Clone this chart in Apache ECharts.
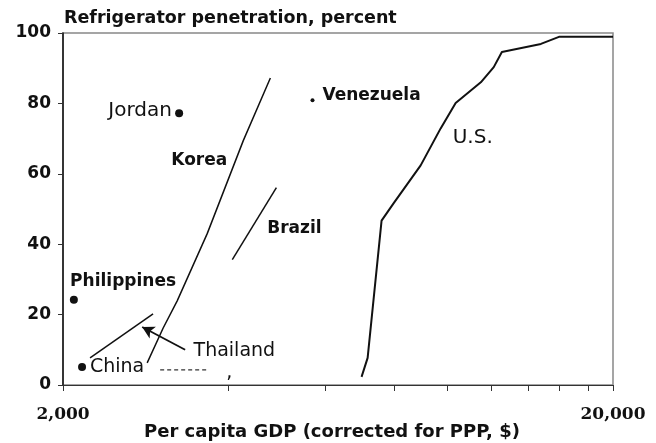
<!DOCTYPE html>
<html><head><meta charset="utf-8">
<script src="https://cdn.jsdelivr.net/npm/echarts@6/dist/echarts.min.js"></script>
<style>html,body{margin:0;padding:0;background:#fff}#c{width:656px;height:443px}</style>
</head><body><div id="c"></div>
<script>
// ---- data ----
const xTickLabels = [2000, 20000];
const xTickValues = [2000, 4000, 6000, 8000, 10000, 12000, 14000, 16000, 18000, 20000];

const usGdp = [6980, 7160, 7590, 7980, 8940, 9720, 10350, 11500, 12140, 12560, 14790, 15950, 20000];
const usPct = [2.3, 7.7, 46.7, 51.6, 62.4, 72.9, 80.1, 86.0, 90.3, 94.6, 96.9, 98.9, 98.9];
const koreaGdp = [2845, 3042, 3226, 3658, 4256, 4765];
const koreaPct = [6.3, 16.2, 23.9, 43.0, 69.5, 87.2];
const brazilGdp = [4063, 4887];
const brazilPct = [35.6, 56.1];
const thailandGdp = [2240, 2916];
const thailandPct = [7.7, 20.2];
const chinaDashGdp = [3004, 3674];
const chinaDashPct = [4.3, 4.3];

const pointNames = ['Jordan', 'Venezuela', 'Philippines', 'China'];
const pointGdp = [3252, 5684, 2093, 2166];
const pointPct = [77.2, 80.9, 24.2, 5.1];

const labelNames = ['Jordan', 'Venezuela', 'Korea', 'Brazil', 'Philippines', 'Thailand', 'China', 'U.S.', ','];
const labelGdp = [2762, 7278, 3538, 5270, 2572, 4098, 2508, 11118, 4013];
const labelPct = [77.8, 82.3, 63.8, 44.4, 29.3, 9.7, 5.1, 70.1, 3.4];

const arrowFrom = [3335, 10.0];
const arrowTo = [2786, 16.5];

// ---- styles ----
const SANS = 'DejaVu Sans';
const INK = '#111';
const boldLabels = { 'Venezuela': true, 'Korea': true, 'Brazil': true, 'Philippines': true };
const labelSize = { 'Jordan': 20, 'Thailand': 19, 'China': 19, 'U.S.': 20, ',': 19 };
const dotSize = { 'Venezuela': 4 };

const zip = (xs, ys) => xs.map((x, i) => [x, ys[i]]);
const lineSeries = (name, xs, ys, extra) => Object.assign({
  name, type: 'line', data: zip(xs, ys), showSymbol: false, symbol: 'none',
  lineStyle: { color: INK, width: 1.5 }, silent: true, z: 3
}, extra || {});

const chart = echarts.init(document.getElementById('c'), null, { renderer: 'canvas' });
chart.setOption({
  animation: false,
  backgroundColor: '#fff',
  title: {
    text: 'Refrigerator penetration, percent',
    left: 64, top: 9, padding: 0,
    textStyle: { fontFamily: SANS, fontWeight: 'bold', fontSize: 17.5, color: INK }
  },
  grid: {
    left: 63, right: 43, top: 33, bottom: 58, containLabel: false, outerBoundsMode: 'none',
    show: true, borderColor: '#888', borderWidth: 1.5
  },
  xAxis: {
    type: 'log', logBase: 10, min: 2000, max: 20000,
    name: 'Per capita GDP (corrected for PPP, $)',
    nameLocation: 'middle', nameGap: 38, nameMoveOverlap: false,
    nameTextStyle: { fontFamily: SANS, fontWeight: 'bold', fontSize: 18, color: INK, padding: [0, 12, 0, 0] },
    axisLine: { show: true, lineStyle: { color: '#333', width: 1.2 } },
    axisTick: { show: true, customValues: xTickValues, length: 6, inside: false, lineStyle: { color: '#333' } },
    axisLabel: {
      show: true, customValues: xTickLabels, margin: 21,
      fontFamily: 'DejaVu Serif', fontWeight: 'bold', fontSize: 17, color: INK,
      formatter: v => Math.round(v).toLocaleString('en-US')
    },
    splitLine: { show: false }, minorTick: { show: false }
  },
  yAxis: {
    type: 'value', min: 0, max: 100, interval: 20,
    axisLine: { show: true, lineStyle: { color: INK, width: 1.5 } },
    axisTick: { show: true, length: 5, lineStyle: { color: '#333' } },
    axisLabel: { margin: 12, fontFamily: SANS, fontWeight: 'bold', fontSize: 17, color: INK },
    splitLine: { show: false }
  },
  series: [
    lineSeries('U.S.', usGdp, usPct, { lineStyle: { color: INK, width: 2 } }),
    lineSeries('Korea', koreaGdp, koreaPct),
    lineSeries('Brazil', brazilGdp, brazilPct),
    lineSeries('Thailand', thailandGdp, thailandPct, {
      markLine: {
        silent: true, symbol: ['none', 'arrow'], symbolSize: [10, 12], label: { show: false },
        lineStyle: { color: INK, width: 1.8, type: 'solid' },
        data: [[{ coord: arrowFrom }, { coord: arrowTo }]]
      }
    }),
    lineSeries('ChinaDash', chinaDashGdp, chinaDashPct, { lineStyle: { color: '#333', width: 1.2, type: [4, 3] } }),
    {
      name: 'points', type: 'scatter', silent: true, z: 4,
      data: pointNames.map((n, i) => ({ name: n, value: [pointGdp[i], pointPct[i]], symbolSize: dotSize[n] || 8 })),
      itemStyle: { color: INK, opacity: 1 }
    },
    {
      name: 'labels', type: 'scatter', silent: true, z: 5, symbolSize: 0,
      itemStyle: { color: 'rgba(0,0,0,0)', opacity: 1 },
      data: labelNames.map((n, i) => ({
        name: n, value: [labelGdp[i], labelPct[i]],
        label: {
          show: true, position: 'inside', formatter: n, color: INK, opacity: 1,
          fontFamily: SANS, fontWeight: boldLabels[n] ? 'bold' : 'normal',
          fontSize: labelSize[n] || 17
        }
      }))
    }
  ]
});
</script></body></html>
